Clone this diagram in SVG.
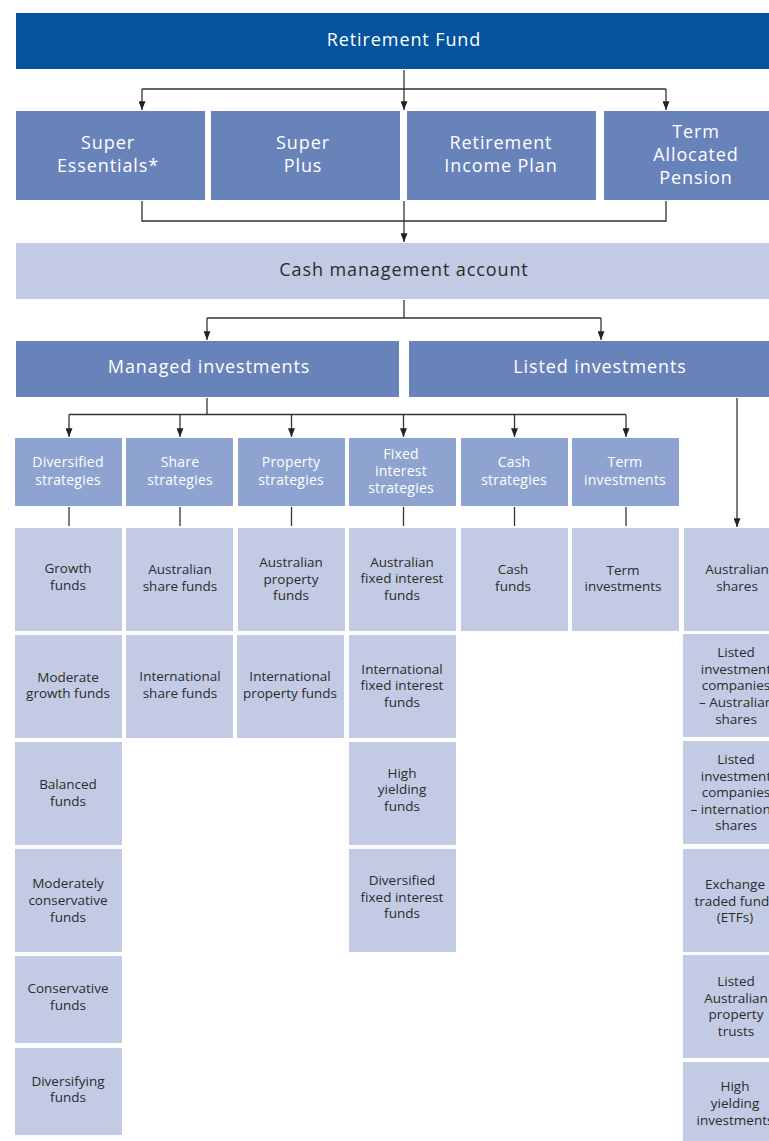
<svg xmlns="http://www.w3.org/2000/svg" width="769" height="1141" viewBox="0 0 769 1141">
<style>
.dark{fill:#03539D}
.mid{fill:#6882BA}
.strat{fill:#8EA3CF}
.pale{fill:#C3CBE4}
text{font-family:"Open Sans","Liberation Sans",sans-serif;text-anchor:middle}
.t1{font-size:18px;letter-spacing:0.9px;fill:#ffffff}
.t1d{font-size:18px;letter-spacing:0.9px;fill:#2b2b2b}
.t2{font-size:14px;letter-spacing:0.2px;fill:#ffffff}
.t3{font-size:13.5px;fill:#2b2b2b}
.con{stroke:#333333;stroke-width:1.3;fill:none}
.arr{marker-end:url(#ah)}
</style>
<defs>
<marker id="ah" viewBox="0 0 10 8" refX="10" refY="4" markerWidth="9" markerHeight="7" orient="auto" markerUnits="userSpaceOnUse">
<path d="M0,0 L10,4 L0,8 z" fill="#222222"/>
</marker>
</defs>
<rect width="769" height="1141" fill="#ffffff"/>

<g id="connectors">
<path class="con arr" d="M404,70 V110"/>
<path class="con" d="M142,89 H666"/>
<path class="con arr" d="M142,89 V110"/>
<path class="con arr" d="M666,89 V110"/>
<path class="con" d="M142,201 V221 H666 V201"/>
<path class="con arr" d="M404,201 V242"/>
<path class="con" d="M404,300 V318"/>
<path class="con" d="M207,318 H601"/>
<path class="con arr" d="M207,318 V340"/>
<path class="con arr" d="M601,318 V340"/>
<path class="con" d="M207,398 V414.5"/>
<path class="con" d="M69,414.5 H626"/>
<path class="con arr" d="M69,414.5 V437"/>
<path class="con arr" d="M180,414.5 V437"/>
<path class="con arr" d="M291.5,414.5 V437"/>
<path class="con arr" d="M403.5,414.5 V437"/>
<path class="con arr" d="M514.5,414.5 V437"/>
<path class="con arr" d="M626,414.5 V437"/>
<path class="con arr" d="M737,398 V527"/>
<path class="con" d="M69,507 V526"/>
<path class="con" d="M180,507 V526"/>
<path class="con" d="M291.5,507 V526"/>
<path class="con" d="M403.5,507 V526"/>
<path class="con" d="M514.5,507 V526"/>
<path class="con" d="M626,507 V526"/>
</g>

<g id="retirement-fund"><rect class="dark" x="16" y="13" width="753" height="56"/><text class="t1" x="404" y="46">Retirement Fund</text></g>

<g id="super-essentials"><rect class="mid" x="16" y="111" width="189" height="89"/><text class="t1" x="108" y="149">Super</text><text class="t1" x="108" y="172">Essentials*</text></g>
<g id="super-plus"><rect class="mid" x="211" y="111" width="189" height="89"/><text class="t1" x="303" y="149">Super</text><text class="t1" x="303" y="172">Plus</text></g>
<g id="retirement-income-plan"><rect class="mid" x="407" y="111" width="189" height="89"/><text class="t1" x="501" y="149">Retirement</text><text class="t1" x="501" y="172">Income Plan</text></g>
<g id="term-allocated-pension"><rect class="mid" x="604" y="111" width="165" height="89"/><text class="t1" x="696" y="138">Term</text><text class="t1" x="696" y="161">Allocated</text><text class="t1" x="696" y="184">Pension</text></g>

<g id="cash-management-account"><rect class="pale" x="16" y="243" width="753" height="56"/><text class="t1d" x="404" y="276">Cash management account</text></g>

<g id="managed-investments"><rect class="mid" x="16" y="341" width="383" height="56"/><text class="t1" x="209" y="373">Managed investments</text></g>
<g id="listed-investments"><rect class="mid" x="409" y="341" width="360" height="56"/><text class="t1" x="600" y="373">Listed investments</text></g>

<g id="diversified-strategies"><rect class="strat" x="15" y="438" width="107" height="68"/><text class="t2" x="68" y="467">Diversified</text><text class="t2" x="68" y="485">strategies</text></g>
<g id="share-strategies"><rect class="strat" x="126" y="438" width="107" height="68"/><text class="t2" x="180" y="467">Share</text><text class="t2" x="180" y="485">strategies</text></g>
<g id="property-strategies"><rect class="strat" x="238" y="438" width="107" height="68"/><text class="t2" x="291" y="467">Property</text><text class="t2" x="291" y="485">strategies</text></g>
<g id="fixed-interest-strategies"><rect class="strat" x="349" y="438" width="107" height="68"/><text class="t2" x="401" y="459">Fixed</text><text class="t2" x="401" y="476">interest</text><text class="t2" x="401" y="493">strategies</text></g>
<g id="cash-strategies"><rect class="strat" x="461" y="438" width="107" height="68"/><text class="t2" x="514" y="467">Cash</text><text class="t2" x="514" y="485">strategies</text></g>
<g id="term-investments-strategy"><rect class="strat" x="572" y="438" width="107" height="68"/><text class="t2" x="625" y="467">Term</text><text class="t2" x="625" y="485">investments</text></g>

<g id="growth-funds"><rect class="pale" x="15" y="528" width="107" height="103"/><text class="t3" x="68" y="573">Growth</text><text class="t3" x="68" y="590">funds</text></g>
<g id="moderate-growth-funds"><rect class="pale" x="15" y="635" width="107" height="103"/><text class="t3" x="68" y="682">Moderate</text><text class="t3" x="68" y="698">growth funds</text></g>
<g id="balanced-funds"><rect class="pale" x="15" y="742" width="107" height="103"/><text class="t3" x="68" y="789">Balanced</text><text class="t3" x="68" y="806">funds</text></g>
<g id="moderately-conservative-funds"><rect class="pale" x="15" y="849" width="107" height="103"/><text class="t3" x="68" y="888">Moderately</text><text class="t3" x="68" y="905">conservative</text><text class="t3" x="68" y="922">funds</text></g>
<g id="conservative-funds"><rect class="pale" x="15" y="956" width="107" height="87"/><text class="t3" x="68" y="993">Conservative</text><text class="t3" x="68" y="1010">funds</text></g>
<g id="diversifying-funds"><rect class="pale" x="15" y="1048" width="107" height="87"/><text class="t3" x="68" y="1086">Diversifying</text><text class="t3" x="68" y="1102">funds</text></g>

<g id="australian-share-funds"><rect class="pale" x="126" y="528" width="107" height="103"/><text class="t3" x="180" y="574">Australian</text><text class="t3" x="180" y="591">share funds</text></g>
<g id="international-share-funds"><rect class="pale" x="126" y="635" width="107" height="103"/><text class="t3" x="180" y="681">International</text><text class="t3" x="180" y="698">share funds</text></g>

<g id="australian-property-funds"><rect class="pale" x="238" y="528" width="107" height="103"/><text class="t3" x="291" y="567">Australian</text><text class="t3" x="291" y="584">property</text><text class="t3" x="291" y="600">funds</text></g>
<g id="international-property-funds"><rect class="pale" x="237" y="635" width="107" height="103"/><text class="t3" x="290" y="681">International</text><text class="t3" x="290" y="698">property funds</text></g>

<g id="australian-fixed-interest-funds"><rect class="pale" x="349" y="528" width="107" height="103"/><text class="t3" x="402" y="567">Australian</text><text class="t3" x="402" y="583">fixed interest</text><text class="t3" x="402" y="600">funds</text></g>
<g id="international-fixed-interest-funds"><rect class="pale" x="349" y="635" width="107" height="103"/><text class="t3" x="402" y="674">International</text><text class="t3" x="402" y="690">fixed interest</text><text class="t3" x="402" y="707">funds</text></g>
<g id="high-yielding-funds"><rect class="pale" x="349" y="742" width="107" height="103"/><text class="t3" x="402" y="778">High</text><text class="t3" x="402" y="794">yielding</text><text class="t3" x="402" y="811">funds</text></g>
<g id="diversified-fixed-interest-funds"><rect class="pale" x="349" y="849" width="107" height="103"/><text class="t3" x="402" y="885">Diversified</text><text class="t3" x="402" y="902">fixed interest</text><text class="t3" x="402" y="918">funds</text></g>

<g id="cash-funds"><rect class="pale" x="461" y="528" width="107" height="103"/><text class="t3" x="513" y="574">Cash</text><text class="t3" x="513" y="591">funds</text></g>
<g id="term-investments"><rect class="pale" x="572" y="528" width="107" height="103"/><text class="t3" x="623" y="575">Term</text><text class="t3" x="623" y="591">investments</text></g>

<g id="australian-shares"><rect class="pale" x="684" y="528" width="85" height="103"/><text class="t3" x="737" y="574">Australian</text><text class="t3" x="737" y="591">shares</text></g>
<g id="lic-australian-shares"><rect class="pale" x="683" y="634" width="86" height="103"/><text class="t3" x="736" y="657">Listed</text><text class="t3" x="736" y="674">investment</text><text class="t3" x="736" y="690">companies</text><text class="t3" x="736" y="707">– Australian</text><text class="t3" x="736" y="724">shares</text></g>
<g id="lic-international-shares"><rect class="pale" x="683" y="741" width="86" height="103"/><text class="t3" x="736" y="764">Listed</text><text class="t3" x="736" y="781">investment</text><text class="t3" x="736" y="797">companies</text><text class="t3" x="736" y="814">– international</text><text class="t3" x="736" y="830">shares</text></g>
<g id="etfs"><rect class="pale" x="683" y="849" width="86" height="103"/><text class="t3" x="735" y="889">Exchange</text><text class="t3" x="735" y="906">traded funds</text><text class="t3" x="735" y="922">(ETFs)</text></g>
<g id="listed-australian-property-trusts"><rect class="pale" x="683" y="955" width="86" height="103"/><text class="t3" x="736" y="986">Listed</text><text class="t3" x="736" y="1003">Australian</text><text class="t3" x="736" y="1019">property</text><text class="t3" x="736" y="1036">trusts</text></g>
<g id="high-yielding-investments"><rect class="pale" x="683" y="1062" width="86" height="79"/><text class="t3" x="735" y="1091">High</text><text class="t3" x="735" y="1108">yielding</text><text class="t3" x="735" y="1125">investments</text></g>
</svg>
